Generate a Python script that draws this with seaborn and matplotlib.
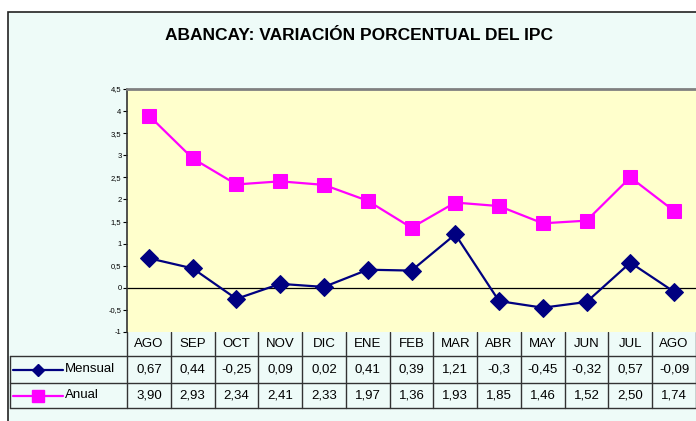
import numpy as np
import pandas as pd
import seaborn as sns
import matplotlib
matplotlib.use("Agg")
import matplotlib.pyplot as plt
from matplotlib.patches import Rectangle
from matplotlib.lines import Line2D

months = ["AGO", "SEP", "OCT", "NOV", "DIC", "ENE", "FEB", "MAR", "ABR", "MAY", "JUN", "JUL", "AGO"]
mensual = [0.67, 0.44, -0.25, 0.09, 0.02, 0.41, 0.39, 1.21, -0.3, -0.45, -0.32, 0.57, -0.09]
anual = [3.90, 2.93, 2.34, 2.41, 2.33, 1.97, 1.36, 1.93, 1.85, 1.46, 1.52, 2.50, 1.74]
mensual_labels = ["0,67", "0,44", "-0,25", "0,09", "0,02", "0,41", "0,39", "1,21", "-0,3", "-0,45", "-0,32", "0,57", "-0,09"]
anual_labels = ["3,90", "2,93", "2,34", "2,41", "2,33", "1,97", "1,36", "1,93", "1,85", "1,46", "1,52", "2,50", "1,74"]
yticks = [-1, -0.5, 0, 0.5, 1, 1.5, 2, 2.5, 3, 3.5, 4, 4.5]
ytick_labels = ["-1", "-0,5", "0", "0,5", "1", "1,5", "2", "2,5", "3", "3,5", "4", "4,5"]
title = "ABANCAY: VARIACIÓN PORCENTUAL DEL IPC"

sns.set_style("white")
plt.rcParams["font.family"] = ["Liberation Sans", "DejaVu Sans"]
plt.rcParams["text.color"] = "black"
plt.rcParams["ytick.color"] = "black"

W, H = 696, 421
fig = plt.figure(figsize=(W / 100, H / 100), dpi=100)
fig.patch.set_facecolor("white")

def fx(px):
    return px / W

def fy(py):
    return 1 - py / H

# outer chart box
box = Rectangle((fx(8), fy(H + 5)), fx(W), (H + 5 - 12) / H,
                transform=fig.transFigure, facecolor="#EEFBF8",
                edgecolor="#222222", linewidth=1.2, zorder=-5)
fig.patches.append(box)

left, right, top, bottom = 127, 696, 89, 332
ax = fig.add_axes([fx(left), fy(bottom), fx(right - left), (bottom - top) / H])
ax.set_zorder(2)
ax.set_facecolor("#FFFFCC")

x = np.arange(len(months))
df = pd.DataFrame({"x": np.concatenate([x, x]),
                   "y": mensual + anual,
                   "serie": ["Mensual"] * len(x) + ["Anual"] * len(x)})

sns.lineplot(data=df[df.serie == "Mensual"], x="x", y="y", ax=ax, color="#000080",
             marker="D", markersize=9, markeredgecolor="#000080", linewidth=1.6, legend=False)
sns.lineplot(data=df[df.serie == "Anual"], x="x", y="y", ax=ax, color="#FF00FF",
             marker="s", markersize=10, markeredgecolor="#FF00FF", linewidth=1.6, legend=False)

ax.axhline(0, color="black", linewidth=0.9, zorder=1)
ax.set_xlim(-0.5, len(months) - 0.5)
ax.set_ylim(-1, 4.5)
ax.set_yticks(yticks)
ax.set_yticklabels(ytick_labels, fontsize=5.5)
ax.set_xticks([])
ax.set_xlabel("")
ax.set_ylabel("")
ax.tick_params(axis="y", direction="out", length=3, width=0.8, pad=1, left=True, colors="black")
for s in ["right", "bottom"]:
    ax.spines[s].set_visible(False)
ax.spines["top"].set_color("#808080")
ax.spines["top"].set_linewidth(2)
ax.spines["left"].set_color("#333333")
ax.spines["left"].set_linewidth(1.2)

fig.text(fx(359), fy(36), title, ha="center", va="center", fontsize=12.5, fontweight="bold", color="black")

# data table
row_y = [332, 356, 383, 408]
col_w = (right - left) / len(months)
lc = "#333333"
for i in range(len(months) + 1):
    xx = left + i * col_w
    fig.add_artist(Line2D([fx(xx), fx(xx)], [fy(row_y[0]), fy(row_y[3])], color=lc, linewidth=1.0))
fig.add_artist(Line2D([fx(10), fx(10)], [fy(row_y[1]), fy(row_y[3])], color=lc, linewidth=1.0))
for ry in row_y[1:]:
    fig.add_artist(Line2D([fx(10), fx(W)], [fy(ry), fy(ry)], color=lc, linewidth=1.0))

fs = 9.5
for i, m in enumerate(months):
    cx = left + (i + 0.5) * col_w
    fig.text(fx(cx), fy((row_y[0] + row_y[1]) / 2), m, ha="center", va="center", fontsize=fs)
    fig.text(fx(cx), fy((row_y[1] + row_y[2]) / 2), mensual_labels[i], ha="center", va="center", fontsize=fs)
    fig.text(fx(cx), fy((row_y[2] + row_y[3]) / 2), anual_labels[i], ha="center", va="center", fontsize=fs)

for (r0, r1), name, col, mk, ms in [((row_y[1], row_y[2]), "Mensual", "#000080", "D", 6),
                                     ((row_y[2], row_y[3]), "Anual", "#FF00FF", "s", 8)]:
    cy = fy((r0 + r1) / 2)
    fig.add_artist(Line2D([fx(13), fx(63)], [cy, cy], color=col, linewidth=1.6))
    fig.add_artist(Line2D([fx(38)], [cy], color=col, marker=mk, markersize=ms, markeredgecolor=col))
    fig.text(fx(65), cy, name, ha="left", va="center", fontsize=fs)

fig.savefig("out.png", dpi=100)
